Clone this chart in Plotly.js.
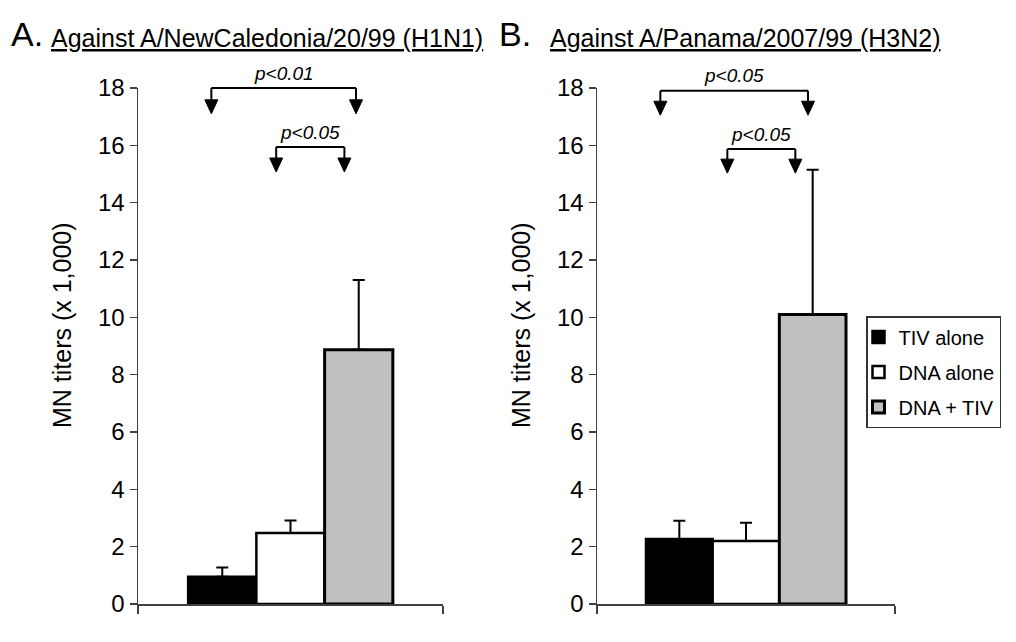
<!DOCTYPE html>
<html>
<head>
<meta charset="utf-8">
<script src="https://cdn.plot.ly/plotly-3.0.1.min.js"></script>
<style>
  html, body { margin: 0; padding: 0; background: #fff; }
  #chart { width: 1016px; height: 642px; }
</style>
</head>
<body>
<div id="chart"></div>
<script>
// ---------------- DATA ----------------
const categories = ['TIV alone', 'DNA alone', 'DNA + TIV'];
const h1n1Mean = [0.95, 2.48, 8.87];
const h1n1Err  = [0.32, 0.43, 2.43];
const h3n2Mean = [2.27, 2.20, 10.10];
const h3n2Err  = [0.63, 0.63, 5.05];
const yTickVals = [0, 2, 4, 6, 8, 10, 12, 14, 16, 18];
const panelLetters = ['A.', 'B.'];
const panelTitles = ['Against A/NewCaledonia/20/99 (H1N1)', 'Against A/Panama/2007/99 (H3N2)'];
const yTitle = 'MN titers (x 1,000)';
// comparisons: indices of the two compared groups and the label
const h1n1Comparisons = [[0, 2, 'p<0.01'], [1, 2, 'p<0.05']];
const h3n2Comparisons = [[0, 2, 'p<0.05'], [1, 2, 'p<0.05']];

// ---------------- STYLE / LAYOUT ----------------
const W = 1016, H = 642;
const FONT = 'Liberation Sans, Arial, sans-serif';
const fills = ['#000000', '#ffffff', '#c0c0c0'];
const axisColor = '#404040';
const xr = [-1.235, 3.235];
const yr = [0, 18];
const yDom = [1 - 604 / H, 1 - 88 / H];
const xDoms = [[138 / W, 443 / W], [597 / W, 895 / W]];
// per-panel bracket placement (offset from bar centre, line level, tip level)
const bracketGeom = [
  [{da: -0.16, db: -0.04, line: 18.0, tip: 17.1}, {da: -0.21, db: -0.21, line: 15.94, tip: 15.07}],
  [{da: -0.285, db: -0.07, line: 17.9, tip: 17.05}, {da: -0.28, db: -0.26, line: 15.87, tip: 15.03}]
];

function toPaper(p, xv, yv) {
  const d = xDoms[p];
  const fx = (xv - xr[0]) / (xr[1] - xr[0]);
  const fy = (yv - yr[0]) / (yr[1] - yr[0]);
  return [d[0] + fx * (d[1] - d[0]), yDom[0] + fy * (yDom[1] - yDom[0])];
}

const traces = [];
[[h1n1Mean, h1n1Err], [h3n2Mean, h3n2Err]].forEach(([means, errs], p) => {
  categories.forEach((c, i) => {
    traces.push({
      type: 'bar',
      x: [c], y: [means[i]],
      name: c,
      legendgroup: c,
      showlegend: p === 1,
      xaxis: p === 0 ? 'x' : 'x2',
      yaxis: p === 0 ? 'y' : 'y2',
      width: 1,
      marker: {color: fills[i], line: {color: '#000', width: i === 2 ? 3 : 2.5}},
      error_y: {type: 'data', symmetric: false, array: [errs[i]], arrayminus: [0],
                color: '#000', thickness: 2, width: 6},
      hoverinfo: 'x+y'
    });
  });
});

const shapes = [];
const annotations = [];
const ahw = 6.5 / W, ahh = 14 / H;
[h1n1Comparisons, h3n2Comparisons].forEach((comps, p) => {
  comps.forEach((cmp, k) => {
    const g = bracketGeom[p][k];
    const [xa, yl] = toPaper(p, cmp[0] + g.da, g.line);
    const [xb] = toPaper(p, cmp[1] + g.db, g.line);
    const [, yt] = toPaper(p, 0, g.tip);
    const ln = {type: 'line', xref: 'paper', yref: 'paper', line: {color: '#000', width: 2}};
    shapes.push(Object.assign({x0: xa, x1: xb, y0: yl, y1: yl}, ln));
    [xa, xb].forEach(xx => {
      shapes.push(Object.assign({x0: xx, x1: xx, y0: yl, y1: yt + ahh}, ln));
      shapes.push({type: 'path', xref: 'paper', yref: 'paper',
        path: `M ${xx - ahw} ${yt + ahh} L ${xx + ahw} ${yt + ahh} L ${xx} ${yt} Z`,
        fillcolor: '#000', line: {color: '#000', width: 1}});
    });
    annotations.push({xref: 'paper', yref: 'paper', x: (xa + xb) / 2, y: yl + 15 / H,
      text: cmp[2].replace('<', '&lt;'), showarrow: false, xanchor: 'center', yanchor: 'middle',
      font: {family: FONT, size: 19, color: '#000', style: 'italic'}});
  });
});

// panel letters and titles
const letterX = [9 / W, 497 / W];
const titleX = [49 / W, 548 / W];
panelLetters.forEach((t, p) => {
  annotations.push({xref: 'paper', yref: 'paper', x: letterX[p], y: 1 - 34 / H, text: t,
    showarrow: false, xanchor: 'left', yanchor: 'middle', font: {family: FONT, size: 34, color: '#000'}});
  annotations.push({xref: 'paper', yref: 'paper', x: titleX[p], y: 1 - 38 / H, text: panelTitles[p],
    showarrow: false, xanchor: 'left', yanchor: 'middle',
    font: {family: FONT, size: 25, color: '#000', lineposition: 'under'}});
});
// y-axis titles
const yTitleX = [62 / W, 521 / W];
yTitleX.forEach(xx => {
  annotations.push({xref: 'paper', yref: 'paper', x: xx, y: 1 - 325 / H, text: yTitle, textangle: -90,
    showarrow: false, xanchor: 'center', yanchor: 'middle', font: {family: FONT, size: 25, color: '#000'}});
});

function xaxisDef(p) {
  return {domain: xDoms[p], range: xr, type: 'category', categoryarray: categories,
    showline: true, linecolor: axisColor, linewidth: 1.5, showgrid: false, zeroline: false,
    tickmode: 'array', tickvals: xr, ticktext: ['', ''], ticks: 'outside', ticklen: 8,
    tickcolor: axisColor, tickwidth: 1.5, showticklabels: false, anchor: p === 0 ? 'y' : 'y2',
    fixedrange: true};
}
function yaxisDef(p) {
  return {domain: yDom, range: yr, showline: true, linecolor: axisColor, linewidth: 1.5,
    showgrid: false, zeroline: false, tickmode: 'array', tickvals: yTickVals, ticks: 'outside',
    ticklen: 7, tickcolor: axisColor, tickwidth: 1.5, tickfont: {family: FONT, size: 24, color: '#000'},
    anchor: p === 0 ? 'x' : 'x2', fixedrange: true};
}

const layout = {
  width: W, height: H, margin: {l: 0, r: 0, t: 0, b: 0},
  paper_bgcolor: '#fff', plot_bgcolor: 'rgba(0,0,0,0)',
  barmode: 'overlay', bargap: 0,
  xaxis: xaxisDef(0), yaxis: yaxisDef(0), xaxis2: xaxisDef(1), yaxis2: yaxisDef(1),
  showlegend: true,
  legend: {x: 866 / W, y: 1 - 316 / H, xanchor: 'left', yanchor: 'top',
    bgcolor: '#fff', bordercolor: '#333', borderwidth: 1.5,
    font: {family: FONT, size: 20, color: '#000'}, traceorder: 'grouped', tracegroupgap: 6,
    itemwidth: 30, indentation: -9, itemclick: false, itemdoubleclick: false},
  shapes: shapes, annotations: annotations,
  font: {family: FONT}
};

Plotly.newPlot('chart', traces, layout, {displayModeBar: false, staticPlot: true});
</script>
</body>
</html>
